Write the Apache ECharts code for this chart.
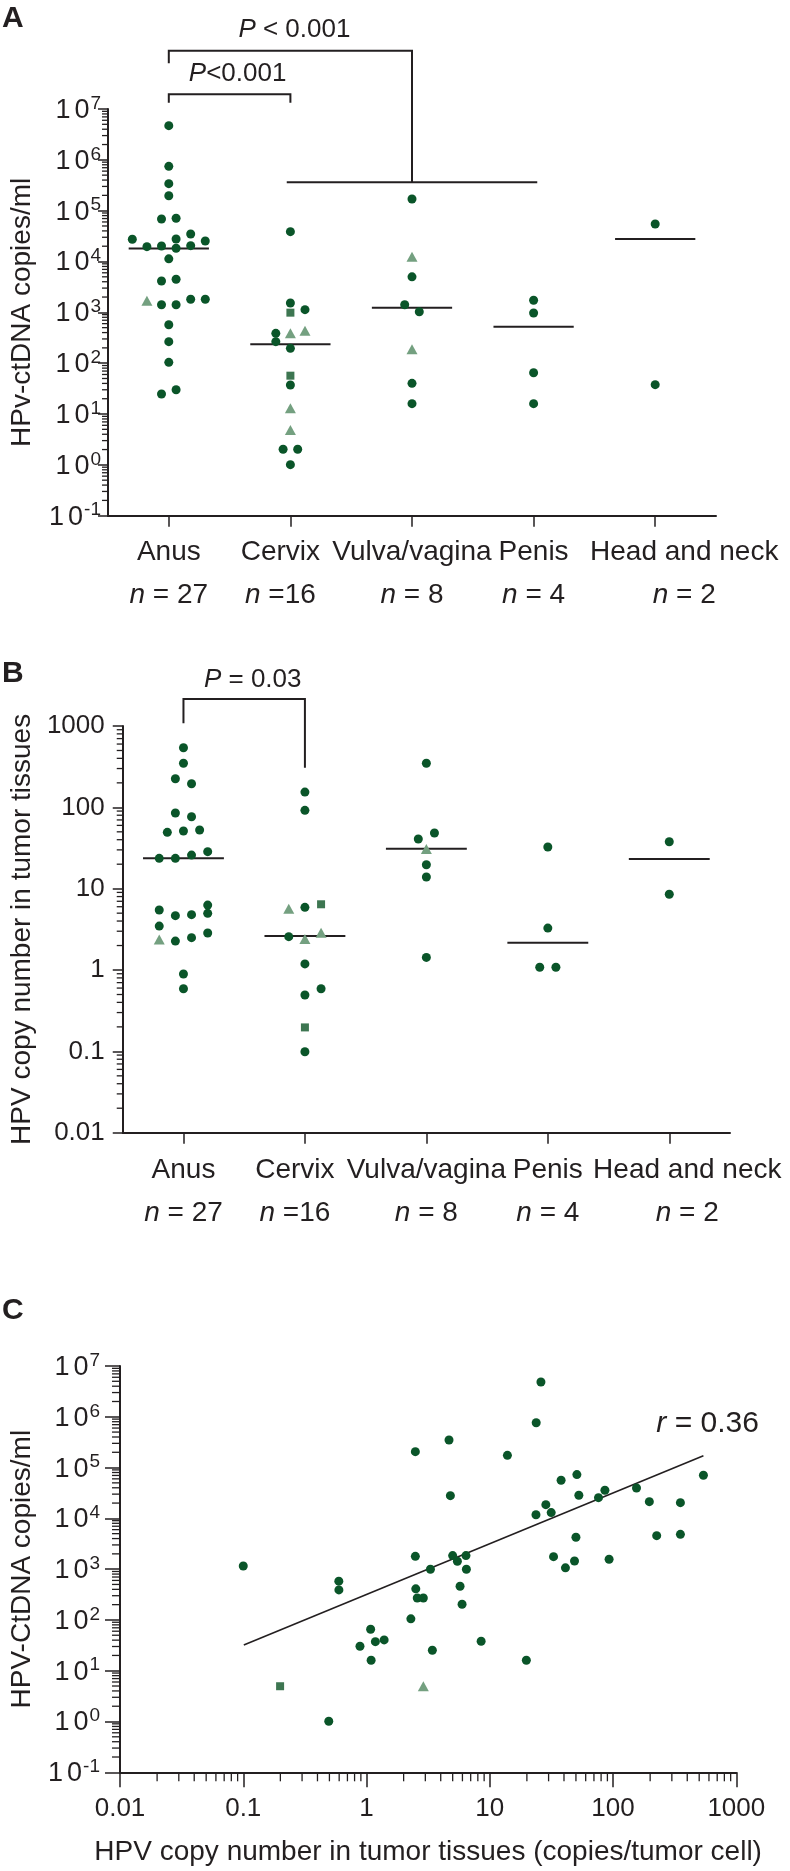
<!DOCTYPE html>
<html><head><meta charset="utf-8">
<script src="https://cdn.jsdelivr.net/npm/echarts@6/dist/echarts.min.js"></script>
<style>html,body{margin:0;padding:0;background:#fff}#c{width:790px;height:1871px}</style>
</head><body><div id="c"></div>
<script>
// ---------- data ----------
const categories = ['Anus', 'Cervix', 'Vulva/vagina', 'Penis', 'Head and neck'];
const nLabels = ['n = 27', 'n =16', 'n = 8', 'n = 4', 'n = 2'];

// Panel A: HPV-ctDNA copies/ml  (shape: c circle, t triangle, s square)
const ctdnaAnus = [4.7e6, 7.45e5, 3.4e5, 1.97e5, 6.86e4, 7.1e4, 2.74e4, 1.96e4, 2.02e4, 2.77e4, 1.82e4, 3.48e4, 2.05e4, 2.53e4, 1.13e4, 4.14e3, 4.47e3, 1.7e3, 1.41e3, 1.41e3, 1.81e3, 1.81e3, 571, 265, 104, 24.8, 30.1];
const ctdnaAnusShape = 'ccccccccccccccccctccccccccc';
const ctdnaAnusJitter = [0, 0, 0, 0, -0.5, 0.5, -2.5, -1.5, -0.5, 0.5, 0.5, 1.5, 1.5, 2.5, 0, -0.5, 0.5, -1.5, -0.5, 0.5, 1.5, 2.5, 0, 0, 0, -0.5, 0.5];
const ctdnaCervix = [3.86e4, 1.53e3, 986, 1.13e3, 387, 265, 387, 437, 196, 56.8, 37.2, 13.0, 4.86, 2.03, 2.03, 1.01];
const ctdnaCervixShape = 'ccscccttcscttccc';
const ctdnaCervixJitter = [0, 0, 0, 1, -1, -1, 0, 1, 0, 0, 0, 0, 0, -0.5, 0.5, 0];
const ctdnaVulva = [1.7e5, 1.24e4, 5.0e3, 1.41e3, 1.03e3, 188, 40.2, 16.0];
const ctdnaVulvaShape = 'ctccctcc';
const ctdnaVulvaJitter = [0, 0, 0, -0.5, 0.5, 0, 0, 0];
const ctdnaPenis = [1.73e3, 971, 65, 16.0];
const ctdnaPenisShape = 'cccc';
const ctdnaHead = [5.47e4, 37.8];
const ctdnaHeadShape = 'cc';
const ctdnaMedian = [1.8e4, 235, 1236, 522, 2.77e4];

// Panel B: HPV copy number in tumor tissues
const copyAnus = [541, 348, 225, 195, 85.1, 76.7, 49.3, 51.2, 52.6, 23.6, 23.6, 25.9, 28.5, 5.47, 4.66, 4.79, 4.98, 6.29, 3.47, 2.38, 2.27, 2.50, 2.85, 0.893, 0.589];
const copyAnusShape = 'ccccccccccccccccccctccccc';
const copyAnusJitter = [0, 0, -0.5, 0.5, -0.5, 0.5, -1, 0, 1, -1.5, -0.5, 0.5, 1.5, -1.5, -0.5, 0.5, 1.5, 1.5, -1.5, -1.5, -0.5, 0.5, 1.5, 0, 0];
const copyCervix = [154, 91.9, 5.68, 5.90, 6.43, 2.57, 2.40, 2.88, 1.19, 0.493, 0.589, 0.197, 0.099];
const copyCervixShape = 'cctcscttcccsc';
const copyCervixJitter = [0, 0, -1, 0, 1, -1, 0, 1, 0, 0, 1, 0, 0];
const copyVulva = [348, 40.8, 48.3, 30.8, 19.7, 13.9, 1.43];
const copyVulvaShape = 'ccctccc';
const copyVulvaJitter = [0, -0.5, 0.5, 0, 0, 0, 0];
const copyPenis = [32.5, 3.28, 1.08, 1.08];
const copyPenisShape = 'cccc';
const copyPenisJitter = [0, 0, -0.5, 0.5];
const copyHead = [37.8, 8.53];
const copyHeadShape = 'cc';
const copyMedian = [23.6, 2.62, 31.0, 2.17, 23.2];

// Panel C: tissue copy number (x) vs ctDNA (y)
const cTissue = [0.1, 0.596, 0.597, 2.51, 2.58, 2.89, 5.74, 5.96, 2.29, 1.08, 0.885, 1.18, 1.39, 1.09, 3.42, 8.51, 19.8, 0.199, 2.89, 0.494, 26.0, 23.8, 4.67, 2.49, 13.9, 541, 37.9, 50.9, 52.8, 85.9, 76.2, 155, 197, 352, 28.5, 23.7, 31.5, 4.79, 50.0, 226, 352, 2.49, 5.0, 6.41, 5.46, 3.3, 6.46, 32.9, 48.7, 41.1, 92.9];
const cCtdna = [1156, 580, 390, 410, 271, 271, 460, 204, 105, 65.6, 30.3, 37.4, 40.4, 16.1, 25.3, 38.0, 16.1, 4.95, 4.95, 1.01, 4.84e6, 7.65e5, 3.49e5, 2.06e5, 1.74e5, 7.05e4, 5.62e4, 7.27e4, 2.85e4, 3.57e4, 2.56e4, 3.96e4, 2.13e4, 2.04e4, 1.86e4, 1.18e4, 1.30e4, 2.80e4, 4.25e3, 4.56e3, 4.85e3, 1.79e3, 1.85e3, 1.85e3, 1.43e3, 995, 995, 1.76e3, 1.45e3, 1.06e3, 1.57e3];
const cShape = 'cccccccccccccccccstcccccccccccccccccccccccccccccccc';
const trendX = [0.101, 541];
const trendY = [32.2, 1.71e5];

// ---------- style ----------
const FONT = "'Liberation Sans', Arial, Helvetica, sans-serif";
const INK = '#231f20';
const C_DOT = '#0a5529', C_TRI = '#74a080', C_SQ = '#3d7651';

const chart = echarts.init(document.getElementById('c'), null, {renderer: 'canvas', width: 790, height: 1871});

function expLabel(v) { return '{b|1}{g|0}{s|' + Math.round(Math.log10(v)) + '}'; }
function numLabel(v) { const e = Math.round(Math.log10(v)); return e >= 0 ? String(Math.pow(10, e)) : Math.pow(10, e).toFixed(-e); }
const supRich = {
  b: {fontSize: 27, fontFamily: FONT, color: INK, lineHeight: 30, verticalAlign: 'bottom', padding: [0, 4, 0, 0]},
  g: {fontSize: 27, fontFamily: FONT, color: INK, lineHeight: 30, verticalAlign: 'bottom'},
  s: {fontSize: 19, fontFamily: FONT, color: INK, lineHeight: 20, verticalAlign: 'top', padding: [0, 0, 0, 1]}
};

function logAxis(grid, min, max, opts) {
  return Object.assign({
    type: 'log', gridIndex: grid, min: min, max: max, logBase: 10,
    axisLine: {show: true, onZero: false, lineStyle: {color: INK, width: 2}},
    axisTick: {show: true, length: 10, lineStyle: {color: INK, width: 1.5}},
    splitLine: {show: false}, minorTick: {show: false},
    nameLocation: 'middle',
    nameTextStyle: {fontSize: 28, fontFamily: FONT, color: INK}
  }, opts);
}
function catAxis(grid, margin, shifts) {
  return {
    type: 'category', gridIndex: grid, boundaryGap: true,
    data: categories.map((c, i) => shifts[i] ? {value: c, textStyle: shifts[i]} : c),
    axisLine: {show: true, onZero: false, lineStyle: {color: INK, width: 2}},
    axisTick: {show: true, alignWithLabel: true, length: 11, lineStyle: {color: INK, width: 1.5}},
    splitLine: {show: false},
    axisLabel: {
      interval: 0, margin: margin, hideOverlap: false, color: INK, fontFamily: FONT, fontSize: 28,
      formatter: (v, i) => '{c|' + v + '}\n{i|' + nLabels[i][0] + '}{c|' + nLabels[i].slice(1) + '}',
      rich: {
        c: {fontSize: 28, fontFamily: FONT, color: INK, lineHeight: 43},
        i: {fontSize: 28, fontFamily: FONT, color: INK, fontStyle: 'italic', lineHeight: 43}
      }
    }
  };
}
function hiddenX(grid) { return {type: 'value', gridIndex: grid, min: -0.5, max: 4.5, show: false, axisLine: {onZero: false}}; }

function scatterTriplet(b, xi, yi) {
  const base = {type: 'scatter', xAxisIndex: xi, yAxisIndex: yi, silent: true, z: 4};
  return [
    Object.assign({}, base, {data: b.c, symbol: 'circle', symbolSize: 9, itemStyle: {color: C_DOT, opacity: 1}}),
    Object.assign({}, base, {data: b.t, symbol: 'triangle', symbolSize: [11, 10], itemStyle: {color: C_TRI, opacity: 1}}),
    Object.assign({}, base, {data: b.s, symbol: 'rect', symbolSize: 8, itemStyle: {color: C_SQ, opacity: 1}})
  ];
}
function dotSeries(groups, step, xi, yi) {
  const b = {c: [], t: [], s: []};
  groups.forEach((g, i) => {
    const vals = g[0], shapes = g[1], jit = g[2];
    vals.forEach((v, j) => b[shapes[j]].push([i + (jit ? jit[j] : 0) * step, v]));
  });
  return scatterTriplet(b, xi, yi);
}
function medianSeries(xi, yi, medians, half) {
  return {
    type: 'custom', xAxisIndex: xi, yAxisIndex: yi, silent: true, z: 3,
    data: medians.map((m, i) => [i, m]),
    renderItem(p, api) {
      const i = api.value(0), m = api.value(1);
      const a = api.coord([i - half, m]), c = api.coord([i + half, m]);
      return {type: 'line', shape: {x1: a[0], y1: a[1], x2: c[0], y2: c[1]}, style: {stroke: INK, lineWidth: 2}};
    }
  };
}
function logMinor(e0, e1) {
  const out = [];
  for (let e = e0; e < e1; e++) for (let k = 2; k <= 9; k++) out.push(+(k * Math.pow(10, e)).toPrecision(3));
  return out;
}
function yMinor(xi, yi, xAnchor, e0, e1, len) {
  return {
    type: 'custom', xAxisIndex: xi, yAxisIndex: yi, silent: true, clip: false, z: 2,
    data: logMinor(e0, e1).map(v => [xAnchor, v]),
    renderItem(p, api) {
      const pt = api.coord([api.value(0), api.value(1)]);
      return {type: 'line', shape: {x1: pt[0] - len, y1: pt[1], x2: pt[0], y2: pt[1]}, style: {stroke: INK, lineWidth: 1.3}};
    }
  };
}
function xMinor(xi, yi, yAnchor, e0, e1, len) {
  return {
    type: 'custom', xAxisIndex: xi, yAxisIndex: yi, silent: true, clip: false, z: 2,
    data: logMinor(e0, e1).map(v => [v, yAnchor]),
    renderItem(p, api) {
      const pt = api.coord([api.value(0), api.value(1)]);
      return {type: 'line', shape: {x1: pt[0], y1: pt[1], x2: pt[0], y2: pt[1] + len}, style: {stroke: INK, lineWidth: 1.3}};
    }
  };
}
function annoSeries(xi, yi, anchor, lines, texts, fontSize) {
  return {
    type: 'custom', xAxisIndex: xi, yAxisIndex: yi, silent: true, clip: false, z: 5,
    data: [anchor],
    renderItem(p, api) {
      const children = [];
      lines.forEach(pts => children.push({type: 'polyline', shape: {points: pts.map(q => api.coord(q))}, style: {stroke: INK, lineWidth: 2, fill: 'none'}}));
      texts.forEach(t => {
        const q = api.coord(t.at);
        children.push({type: 'text', x: q[0], y: q[1], style: {
          text: t.text, fill: INK, fontSize: fontSize, fontFamily: FONT, align: 'center', verticalAlign: 'middle',
          rich: {i: {fontStyle: 'italic', fontSize: fontSize, fontFamily: FONT, fill: INK}}
        }});
      });
      return {type: 'group', children: children};
    }
  };
}
const L = e => Math.pow(10, e);

const option = {
  animation: false,
  backgroundColor: '#fff',
  textStyle: {fontFamily: FONT, color: INK},
  grid: [
    {left: 106, top: 109, width: 610, height: 406.7},
    {left: 118, top: 726, width: 612, height: 406.7},
    {left: 119.3, top: 1366, width: 617, height: 406.3}
  ],
  graphic: [
    {type: 'text', left: 2, top: 4, style: {text: 'A', font: 'bold 30px ' + FONT, fill: INK}},
    {type: 'text', left: 2, top: 659, style: {text: 'B', font: 'bold 30px ' + FONT, fill: INK}},
    {type: 'text', left: 2, top: 1296, style: {text: 'C', font: 'bold 30px ' + FONT, fill: INK}}
  ],
  xAxis: [
    catAxis(0, 15, [null, {padding: [0, 20, 0, 0]}, null, null, {padding: [0, 0, 0, 58]}]),
    hiddenX(0),
    catAxis(1, 16, [null, {padding: [0, 20, 0, 0]}, null, null, {padding: [0, 0, 0, 36]}]),
    hiddenX(1),
    logAxis(2, 0.01, 1000, {
      axisTick: {show: true, length: 15, lineStyle: {color: INK, width: 1.5}},
      axisLabel: {margin: 24, fontSize: 26, fontFamily: FONT, color: INK, formatter: numLabel},
      name: 'HPV copy number in tumor tissues (copies/tumor cell)', nameGap: 66
    })
  ],
  yAxis: [
    logAxis(0, 0.1, 1e7, {
      axisLabel: {margin: 7, formatter: expLabel, rich: supRich},
      name: 'HPv-ctDNA copies/ml', nameGap: 72
    }),
    logAxis(1, 0.01, 1000, {
      axisLabel: {margin: 18, fontSize: 26, fontFamily: FONT, color: INK, formatter: numLabel},
      name: 'HPV copy number in tumor tissues', nameGap: 82
    }),
    logAxis(2, 0.1, 1e7, {
      axisTick: {show: true, length: 15, lineStyle: {color: INK, width: 1.5}},
      axisLabel: {margin: 20, formatter: expLabel, rich: supRich},
      name: 'HPV-CtDNA copies/ml', nameGap: 84
    })
  ],
  series: [].concat(
    // Panel A
    yMinor(1, 0, -0.5, -1, 7, 6),
    medianSeries(1, 0, ctdnaMedian, 0.33),
    dotSeries([
      [ctdnaAnus, ctdnaAnusShape, ctdnaAnusJitter],
      [ctdnaCervix, ctdnaCervixShape, ctdnaCervixJitter],
      [ctdnaVulva, ctdnaVulvaShape, ctdnaVulvaJitter],
      [ctdnaPenis, ctdnaPenisShape, null],
      [ctdnaHead, ctdnaHeadShape, null]
    ], 0.12, 1, 0),
    annoSeries(1, 0, [0, 1], [
      [[0, L(7.124)], [0, L(7.289)], [1, L(7.289)], [1, L(7.124)]],
      [[0, L(7.899)], [0, L(8.147)], [2, L(8.147)], [2, L(5.558)]],
      [[0.97, L(5.558)], [3.03, L(5.558)]]
    ], [
      {at: [0.566, L(7.688)], text: '{i|P}<0.001'},
      {at: [1.033, L(8.554)], text: '{i|P} < 0.001'}
    ], 26),
    // Panel B
    yMinor(3, 1, -0.5, -2, 3, 6),
    medianSeries(3, 1, copyMedian, 0.333),
    dotSeries([
      [copyAnus, copyAnusShape, copyAnusJitter],
      [copyCervix, copyCervixShape, copyCervixJitter],
      [copyVulva, copyVulvaShape, copyVulvaJitter],
      [copyPenis, copyPenisShape, copyPenisJitter],
      [copyHead, copyHeadShape, null]
    ], 0.133, 3, 1),
    annoSeries(3, 1, [0, 1], [
      [[0, L(3.033)], [0, L(3.332)], [1, L(3.332)], [1, L(2.487)]]
    ], [
      {at: [0.57, L(3.566)], text: '{i|P} = 0.03'}
    ], 26),
    // Panel C
    yMinor(4, 2, 0.01, -1, 7, 8),
    xMinor(4, 2, 0.1, -2, 3, 9),
    {
      type: 'line', xAxisIndex: 4, yAxisIndex: 2, silent: true, z: 3, symbol: 'none',
      data: trendX.map((x, i) => [x, trendY[i]]),
      lineStyle: {color: INK, width: 1.6}
    },
    (function () {
      const b = {c: [], t: [], s: []};
      cTissue.forEach((x, i) => b[cShape[i]].push([x, cCtdna[i]]));
      return scatterTriplet(b, 4, 2);
    })(),
    annoSeries(4, 2, [1, 1], [], [{at: [585, 7.2e5], text: '{i|r} = 0.36'}], 30)
  )
};
chart.setOption(option);
</script></body></html>
